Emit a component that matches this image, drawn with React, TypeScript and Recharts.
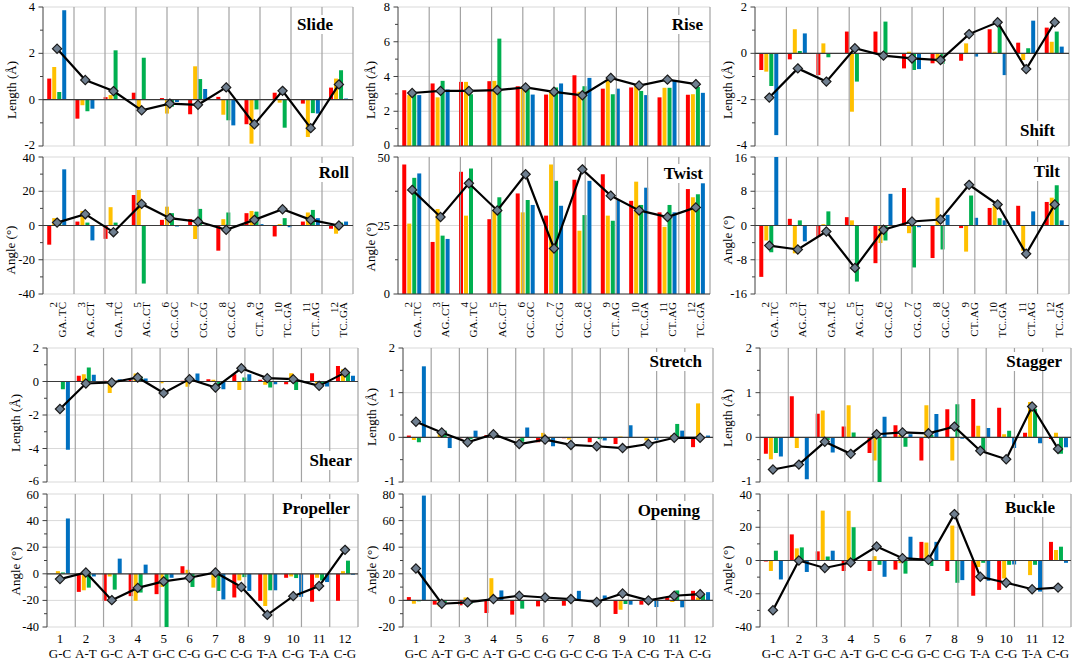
import React from 'react';
import { ComposedChart, Bar, Line, XAxis, YAxis, CartesianGrid, ReferenceLine } from 'recharts';

const FONT = "'Liberation Serif', serif";
const RED = '#ff0000';
const YEL = '#ffc000';
const GRN = '#00b050';
const BLU = '#0070c0';

// ---------- categories ----------
const stepNums = ['2', '3', '4', '5', '6', '7', '8', '9', '10', '11', '12'];
const stepNames = ['GA..TC', 'AG..CT', 'GA..TC', 'AG..CT', 'GC..GC', 'CG..CG', 'GC..GC', 'CT..AG', 'TC..GA', 'CT..AG', 'TC..GA'];
const pairNums = ['1', '2', '3', '4', '5', '6', '7', '8', '9', '10', '11', '12'];
const pairNames = ['G-C', 'A-T', 'G-C', 'A-T', 'G-C', 'C-G', 'G-C', 'C-G', 'T-A', 'C-G', 'T-A', 'C-G'];

// ---------- step parameters ----------
const slideRed = [0.91, -0.82, 0.11, 0.3, 0.07, -0.63, 0.12, -1.06, 0.3, -0.17, 0.52];
const slideYellow = [1.41, -0.24, 0.2, -0.32, -0.6, 1.44, -0.65, -1.9, -0.13, -1.61, 0.91];
const slideGreen = [0.33, -0.5, 2.13, 1.81, -0.3, 0.89, -0.89, -0.42, -1.21, -0.58, 1.27];
const slideBlue = [3.86, -0.39, null, null, -0.1, 0.46, -1.11, 0, 0, -0.6, 0.05];
const slideAvg = [2.2, 0.85, 0.37, -0.46, -0.17, -0.22, 0.53, -1.06, 0.38, -1.23, 0.66];

const riseRed = [3.21, 3.6, 3.69, 3.73, 3.44, 2.96, 4.07, 3.3, 3.37, 2.8, 2.95];
const riseYellow = [2.93, 2.8, 3.69, 3.75, 3.3, 3.2, 3.12, 3.82, 3.5, 3.35, 2.98];
const riseGreen = [3.12, 3.75, 2.98, 6.18, 3.3, 3.37, 3.44, 2.98, 3.17, 3.35, 3.4];
const riseBlue = [2.93, 3.25, null, null, 2.96, 3.6, 3.92, 3.3, 2.93, 3.79, 3.06];
const riseAvg = [3.05, 3.17, 3.17, 3.22, 3.37, 3.12, 2.92, 3.92, 3.48, 3.82, 3.56];

const shiftRed = [-0.72, -0.26, -0.94, 0.94, 0.94, -0.65, -0.43, -0.32, 1.04, 0.46, 1.11];
const shiftYellow = [-0.79, 1.04, 0.43, -2.52, 0, 0.07, -0.36, 0.43, 0.07, -0.29, 0.5];
const shiftGreen = [-1.41, 0.1, -0.17, -1.22, 1.37, -0.72, -0.46, 0, 1.15, 0.22, 0.94];
const shiftBlue = [-3.53, 0.86, null, null, 0, -0.68, 0, -0.14, -0.94, 1.41, 0.29];
const shiftAvg = [-1.91, -0.65, -1.22, 0.22, -0.1, -0.22, -0.29, 0.83, 1.34, -0.68, 1.34];

const rollRed = [-11.2, 2.3, -7.8, 17.8, 3.3, 3.7, -14.7, 7.2, -6.4, 2.3, -1.9];
const rollYellow = [4.3, 8.5, 10.7, 20.7, 11.0, -7.9, 3.7, 8.5, 0.8, 7.6, -4.8];
const rollGreen = [2.3, 1.7, 1.7, -33.9, 7.2, 9.7, 7.6, 8.1, 4.3, 9.1, 1.7];
const rollBlue = [32.8, -8.7, null, null, -0.6, 0, 0, 0.8, -1.0, 4.3, 2.3];
const rollAvg = [1.7, 6.6, -3.9, 12.6, 4.3, 2.3, -2.5, 3.3, 9.5, 3.3, 0];

const twistRed = [47.3, 19.0, 44.6, 27.3, 36.7, 28.6, 41.7, 43.7, 34.0, 29.8, 38.3];
const twistYellow = [25.7, 31.0, 28.6, 30.7, 29.8, 47.3, 23.1, 28.6, 41.0, 24.5, 35.3];
const twistGreen = [42.4, 21.3, 45.8, 35.3, 34.3, 41.3, 28.8, 26.7, 32.5, 32.5, 36.4];
const twistBlue = [44.0, 20.1, null, null, 32.5, 32.2, 41.3, 34.3, 38.8, 29.8, 40.4];
const twistAvg = [38.0, 28.1, 40.4, 30.5, 43.7, 16.6, 45.5, 35.9, 30.5, 28.1, 31.6];

const tiltRed = [-12.0, 1.56, -2.7, 1.95, -8.8, 8.75, -7.6, -0.6, 4.1, 4.6, 5.5];
const tiltYellow = [-3.5, -6.5, 0.3, 1.2, -4.1, -1.8, 6.5, -6.1, 4.5, -5.9, 6.5];
const tiltGreen = [-6.25, 1.2, 3.3, -13.1, -3.5, -9.8, -5.6, 7.0, 1.7, 0, 9.4];
const tiltBlue = [16.5, -3.7, null, null, 7.4, -0.4, 2.5, 1.8, 1.2, 3.3, 1.2];
const tiltAvg = [-4.7, -5.6, -1.4, -9.9, -1.0, 0.94, 1.4, 9.5, 4.9, -6.6, 4.9];

// ---------- base-pair parameters ----------
const shearRed = [0, 0.34, 0.05, 0.1, 0, 0.05, 0.14, 0.44, 0.1, -0.16, 0.5, 0.93];
const shearYellow = [0, 0.44, -0.69, 0.48, -0.1, -0.32, 0.1, -0.51, -0.2, 0.5, -0.12, 0.73];
const shearGreen = [-0.46, 0.83, -0.05, 0.3, 0, 0.1, -0.16, 0.24, -0.36, -0.5, -0.1, 0.53];
const shearBlue = [-4.08, 0.4, 0.14, 0.18, 0, 0.48, -0.46, 0.44, -0.16, 0.05, -0.3, 0.34];
const shearAvg = [-1.64, -0.12, -0.06, 0.24, -0.69, 0.14, -0.36, 0.79, 0.2, 0.14, -0.26, 0.53];

const stretchRed = [0.04, 0, -0.02, 0.05, 0, -0.11, -0.02, -0.11, -0.15, 0, 0, -0.22];
const stretchYellow = [-0.06, 0.07, 0, 0, -0.02, 0.1, -0.05, 0, 0.02, -0.07, 0.05, 0.76];
const stretchGreen = [-0.11, 0.15, -0.04, 0.04, -0.1, -0.04, -0.01, -0.04, 0, 0, 0.3, 0];
const stretchBlue = [1.59, -0.24, 0.15, 0, 0.22, -0.2, 0, -0.07, 0.27, -0.06, 0.15, 0.04];
const stretchAvg = [0.35, 0.11, -0.11, 0.07, -0.15, -0.05, -0.17, -0.2, -0.24, -0.15, -0.01, -0.01];

const staggerRed = [-0.37, 0.92, 0.53, 0.24, -0.35, 0.27, -0.52, 0.63, 0.86, 0.66, 0.1, -0.04];
const staggerYellow = [-0.49, -0.24, 0.6, 0.72, -0.52, 0.05, 0.72, -0.52, 0.26, 0.07, 0.79, 0.1];
const staggerGreen = [-0.35, 0, -0.06, 0.11, -1.0, -0.21, 0.05, 0.74, -0.32, 0.15, 0.64, -0.37];
const staggerBlue = [-0.43, -0.94, -0.34, 0, 0.46, 0.07, 0.52, -0.03, 0.21, -0.24, -0.13, -0.22];
const staggerAvg = [-0.72, -0.61, -0.1, -0.37, 0.07, 0.11, 0.09, 0.24, -0.3, -0.49, 0.69, -0.26];

const propellerRed = [0, -13.6, -20.3, -16.8, -15.3, 5.7, 0, -17.8, -20.3, -3.0, -21.0, -20.3];
const propellerYellow = [2.0, -12.4, -2.0, -20.3, -9.9, 3.0, -10.4, -5.0, -24.2, -2.0, -3.0, 2.0];
const propellerGreen = [1.0, -10.4, -11.9, -14.1, -41.0, -9.9, -12.9, -2.5, -12.4, -3.2, -5.0, 9.9];
const propellerBlue = [41.6, -2.0, 11.4, 6.9, -3.0, 0, -19.3, -12.9, -12.4, -17.3, -6.2, -0.7];
const propellerAvg = [-4.0, 1.0, -19.8, -10.6, -5.7, -3.0, 1.0, -9.9, -30.9, -16.8, -9.2, 18.0];

const openingRed = [2.5, -3.2, -3.7, -9.5, -10.7, -4.5, -4.0, 0, -10.2, -3.2, 2.2, 7.2];
const openingYellow = [-2.5, -4.5, 2.2, 16.7, 0, 0, 0, 0, -7.0, 0, -1.2, 2.2];
const openingGreen = [-0.7, -2.0, -2.7, 0, -6.2, 0, 0, 0, -2.7, 0, 7.5, 4.7];
const openingBlue = [78.8, 0, 0, 7.5, 0, 0, 7.2, 3.7, -3.2, -5.0, -5.2, 6.2];
const openingAvg = [24.0, -2.5, -1.5, 1.0, 3.5, 2.2, 1.0, -1.2, 5.2, 0, 3.5, 4.7];

const buckleRed = [-0.6, 15.7, 5.5, -6.3, -6.3, -5.5, 11.2, -6.3, -21.2, -17.7, 0, 11.2];
const buckleYellow = [-6.3, 7.3, 30.0, 29.9, 2.6, -1.6, 10.8, 21.0, -3.9, -10.8, -8.8, 6.3];
const buckleGreen = [5.9, 7.9, 2.4, 20.0, -2.6, -7.9, -3.3, -13.4, -1.4, -2.6, -2.6, 8.3];
const buckleBlue = [-11.4, -6.9, 5.9, 0, -9.8, 14.3, 11.2, -11.8, -12.2, -2.4, -18.7, -1.4];
const buckleAvg = [-29.9, 0, -4.5, -1.2, 8.4, 1.4, 0.4, 27.9, -9.8, -13.4, -17.3, -16.3];

// ---------- axis tick values ----------
const slideTicks = [-2, 0, 2, 4];
const riseTicks = [0, 2, 4, 6, 8];
const shiftTicks = [-4, -2, 0, 2];
const rollTicks = [-40, -20, 0, 20, 40];
const twistTicks = [0, 25, 50];
const tiltTicks = [-16, -8, 0, 8, 16];
const shearTicks = [-6, -4, -2, 0, 2];
const stretchTicks = [-1, 0, 1, 2];
const staggerTicks = [-1, 0, 1, 2];
const propellerTicks = [-40, -20, 0, 20, 40, 60];
const openingTicks = [-20, 0, 20, 40, 60, 80];
const buckleTicks = [-40, -20, 0, 20, 40];

// ---------- layout (pixels) ----------
const colTop = [{ l: 43, r: 353 }, { l: 398, r: 710 }, { l: 755, r: 1069 }];
const colBot = [{ l: 47, r: 358 }, { l: 403, r: 713 }, { l: 760, r: 1071 }];
const rowY = [{ t: 7, b: 146 }, { t: 157, b: 294 }, { t: 348, b: 482 }, { t: 494, b: 627 }];

type Arr = (number | null)[];
interface PanelDef {
  title: string;
  yTitle: string;
  series: Arr[];
  avg: number[];
  ticks: number[];
  kind: 'step' | 'pair';
  row: number;
  col: number;
  showX: boolean;
  titleRight: number;
  titleBase: number;
  yTitleX: number;
  yTitleY: number;
}

const LEN = 'Length (Å)';
const ANG = 'Angle (°)';

const panels: PanelDef[] = [
  { title: 'Slide', yTitle: LEN, series: [slideRed, slideYellow, slideGreen, slideBlue], avg: slideAvg, ticks: slideTicks, kind: 'step', row: 0, col: 0, showX: false, titleRight: 333, titleBase: 30, yTitleX: 11, yTitleY: 90 },
  { title: 'Rise', yTitle: LEN, series: [riseRed, riseYellow, riseGreen, riseBlue], avg: riseAvg, ticks: riseTicks, kind: 'step', row: 0, col: 1, showX: false, titleRight: 703, titleBase: 30, yTitleX: 370, yTitleY: 90 },
  { title: 'Shift', yTitle: LEN, series: [shiftRed, shiftYellow, shiftGreen, shiftBlue], avg: shiftAvg, ticks: shiftTicks, kind: 'step', row: 0, col: 2, showX: false, titleRight: 1055, titleBase: 136, yTitleX: 727, yTitleY: 90 },
  { title: 'Roll', yTitle: ANG, series: [rollRed, rollYellow, rollGreen, rollBlue], avg: rollAvg, ticks: rollTicks, kind: 'step', row: 1, col: 0, showX: true, titleRight: 349, titleBase: 178, yTitleX: 10, yTitleY: 250 },
  { title: 'Twist', yTitle: ANG, series: [twistRed, twistYellow, twistGreen, twistBlue], avg: twistAvg, ticks: twistTicks, kind: 'step', row: 1, col: 1, showX: true, titleRight: 703, titleBase: 179, yTitleX: 370, yTitleY: 247 },
  { title: 'Tilt', yTitle: ANG, series: [tiltRed, tiltYellow, tiltGreen, tiltBlue], avg: tiltAvg, ticks: tiltTicks, kind: 'step', row: 1, col: 2, showX: true, titleRight: 1060, titleBase: 177, yTitleX: 727, yTitleY: 240 },
  { title: 'Shear', yTitle: LEN, series: [shearRed, shearYellow, shearGreen, shearBlue], avg: shearAvg, ticks: shearTicks, kind: 'pair', row: 2, col: 0, showX: false, titleRight: 352, titleBase: 466, yTitleX: 15, yTitleY: 423 },
  { title: 'Stretch', yTitle: LEN, series: [stretchRed, stretchYellow, stretchGreen, stretchBlue], avg: stretchAvg, ticks: stretchTicks, kind: 'pair', row: 2, col: 1, showX: false, titleRight: 702, titleBase: 367, yTitleX: 371, yTitleY: 417 },
  { title: 'Stagger', yTitle: LEN, series: [staggerRed, staggerYellow, staggerGreen, staggerBlue], avg: staggerAvg, ticks: staggerTicks, kind: 'pair', row: 2, col: 2, showX: false, titleRight: 1062, titleBase: 367, yTitleX: 727, yTitleY: 418 },
  { title: 'Propeller', yTitle: ANG, series: [propellerRed, propellerYellow, propellerGreen, propellerBlue], avg: propellerAvg, ticks: propellerTicks, kind: 'pair', row: 3, col: 0, showX: true, titleRight: 350, titleBase: 514, yTitleX: 15, yTitleY: 571 },
  { title: 'Opening', yTitle: ANG, series: [openingRed, openingYellow, openingGreen, openingBlue], avg: openingAvg, ticks: openingTicks, kind: 'pair', row: 3, col: 1, showX: true, titleRight: 700, titleBase: 516, yTitleX: 371, yTitleY: 570 },
  { title: 'Buckle', yTitle: ANG, series: [buckleRed, buckleYellow, buckleGreen, buckleBlue], avg: buckleAvg, ticks: buckleTicks, kind: 'pair', row: 3, col: 2, showX: true, titleRight: 1055, titleBase: 513, yTitleX: 727, yTitleY: 570 },
];

const StepTick = (props: any) => {
  const { x, y, payload } = props;
  const [num, name] = String(payload.value).split('|');
  return (
    <g transform={`translate(${x},${y + 8})`}>
      <text transform="rotate(-90)" textAnchor="end" fontFamily={FONT} fontSize={11} fill="#000">
        <tspan x={0} y={-0.5}>{num}</tspan>
        <tspan x={0} y={8.5}>{name}</tspan>
      </text>
    </g>
  );
};

const PairTick = (props: any) => {
  const { x, y, payload } = props;
  const [num, name] = String(payload.value).split('|');
  return (
    <g>
      <text x={x} y={y + 16} textAnchor="middle" fontFamily={FONT} fontSize={13} fill="#000">{num}</text>
      <text x={x} y={y + 31} textAnchor="middle" fontFamily={FONT} fontSize={13} fill="#000">{name}</text>
    </g>
  );
};

const TICK_GAP = 8; // tickSize + tickMargin of the value axis

const makeYTick = (major: number[], topRow: boolean) => (props: any) => {
  const { x, y, payload } = props;
  const v = payload.value;
  const isMajor = major.includes(v);
  const axisX = x + TICK_GAP;
  const len = isMajor ? 4.5 : 3;
  let dy = 4;
  if (v === major[0] && topRow) dy = 2.5;
  if (v === major[major.length - 1] && !topRow) dy = 5;
  return (
    <g>
      <line x1={axisX - len} x2={axisX} y1={y} y2={y} stroke="#404040" strokeWidth={1} />
      {isMajor ? (
        <text x={x} y={y} dy={dy} textAnchor="end" fontFamily={FONT} fontSize={12.5} fill="#000">
          {v}
        </text>
      ) : null}
    </g>
  );
};

const Diamond = (props: any) => {
  const { cx, cy } = props;
  if (cx == null || cy == null) return <g />;
  const s = 4.6;
  return (
    <path
      d={`M${cx},${cy - s}L${cx + s},${cy}L${cx},${cy + s}L${cx - s},${cy}Z`}
      fill="#6f7f90"
      stroke="#1a1a1a"
      strokeWidth={1.2}
    />
  );
};

const COLORS = [RED, YEL, GRN, BLU];
const KEYS = ['r', 'y', 'g', 'b'];

function Panel({ p }: { p: PanelDef }) {
  const nums = p.kind === 'step' ? stepNums : pairNums;
  const names = p.kind === 'step' ? stepNames : pairNames;
  const n = nums.length;
  const data = nums.map((num, i) => ({
    cat: num + '|' + names[i],
    r: p.series[0][i],
    y: p.series[1][i],
    g: p.series[2][i],
    b: p.series[3][i],
    avg: p.avg[i],
  }));
  const cols = p.kind === 'step' ? colTop : colBot;
  const plot = { l: cols[p.col].l, r: cols[p.col].r, t: rowY[p.row].t, b: rowY[p.row].b };
  const YW = 40;
  const xH = p.showX ? (p.kind === 'step' ? 50 : 36) : 0;
  const mTop = 7;
  const mBottom = p.showX ? 0 : 8;
  const mRight = 4;
  const width = plot.r - plot.l + YW + mRight;
  const height = mTop + (plot.b - plot.t) + xH + mBottom;
  const bounds = nums.map((_, i) => i + 1);
  const lo = p.ticks[0];
  const hi = p.ticks[p.ticks.length - 1];
  const domain: [number, number] = [lo, hi];
  const allTicks: number[] = [];
  p.ticks.forEach((t, i) => {
    allTicks.push(t);
    if (i < p.ticks.length - 1) allTicks.push((t + p.ticks[i + 1]) / 2);
  });
  const YTick = makeYTick(p.ticks, p.row === 0 || p.row === 2);
  return (
    <div style={{ position: 'absolute', left: plot.l - YW, top: plot.t - mTop }}>
      <ComposedChart
        width={width}
        height={height}
        data={data}
        margin={{ top: mTop, right: mRight, bottom: mBottom, left: 0 }}
        barCategoryGap="15%"
        barGap={1}
        style={{ overflow: 'visible' }}
      >
        <CartesianGrid vertical={false} stroke="#d9d9d9" xAxisId="cat" horizontalValues={p.ticks} />
        <XAxis
          xAxisId="cat"
          dataKey="cat"
          type="category"
          hide={!p.showX}
          height={xH || 1}
          tick={p.kind === 'step' ? <StepTick /> : <PairTick />}
          tickLine={false}
          axisLine={false}
          interval={0}
          tickSize={0}
          tickMargin={0}
        />
        <XAxis xAxisId="grid" type="number" domain={[0, n]} hide allowDataOverflow />
        <YAxis
          width={YW}
          domain={domain}
          ticks={allTicks}
          interval={0}
          allowDataOverflow
          tick={YTick}
          tickSize={4}
          tickMargin={4}
          axisLine={{ stroke: '#404040' }}
          tickLine={false}
        />
        {bounds.map((k) => (
          <ReferenceLine key={'v' + k} xAxisId="grid" x={k} stroke="#a3a3a3" strokeWidth={1.2} />
        ))}
        {KEYS.map((k, i) => (
          <Bar key={k} xAxisId="cat" dataKey={k} fill={COLORS[i]} isAnimationActive={false} />
        ))}
        <ReferenceLine xAxisId="cat" y={0} stroke="#3a3a3a" strokeWidth={1.2} />
        <Line
          xAxisId="cat"
          dataKey="avg"
          stroke="#000"
          strokeWidth={2.2}
          dot={(dp: any) => <Diamond key={'d' + dp.index} {...dp} />}
          activeDot={false}
          isAnimationActive={false}
        />
      </ComposedChart>
    </div>
  );
}

export default function App() {
  return (
    <div
      style={{
        position: 'absolute',
        left: 0,
        top: 0,
        width: 1072,
        height: 663,
        background: '#fff',
        overflow: 'hidden',
        fontFamily: FONT,
      }}
    >
      {panels.map((p) => (
        <Panel key={p.title} p={p} />
      ))}
      <svg width={1072} height={663} style={{ position: 'absolute', left: 0, top: 0, pointerEvents: 'none' }}>
        {panels.map((p) => (
          <text
            key={'yt' + p.title}
            transform={`translate(${p.yTitleX},${p.yTitleY}) rotate(-90)`}
            textAnchor="middle"
            dominantBaseline="central"
            fontFamily={FONT}
            fontSize={13}
            fill="#000"
          >
            {p.yTitle}
          </text>
        ))}
      </svg>
      {panels.map((p) => (
        <div
          key={'t' + p.title}
          style={{
            position: 'absolute',
            right: 1072 - p.titleRight - 2,
            top: p.titleBase - 15,
            fontSize: 17,
            fontWeight: 'bold',
            lineHeight: '17px',
            background: '#fff',
            padding: '1px 2px',
            whiteSpace: 'nowrap',
            fontFamily: FONT,
          }}
        >
          {p.title}
        </div>
      ))}
    </div>
  );
}
